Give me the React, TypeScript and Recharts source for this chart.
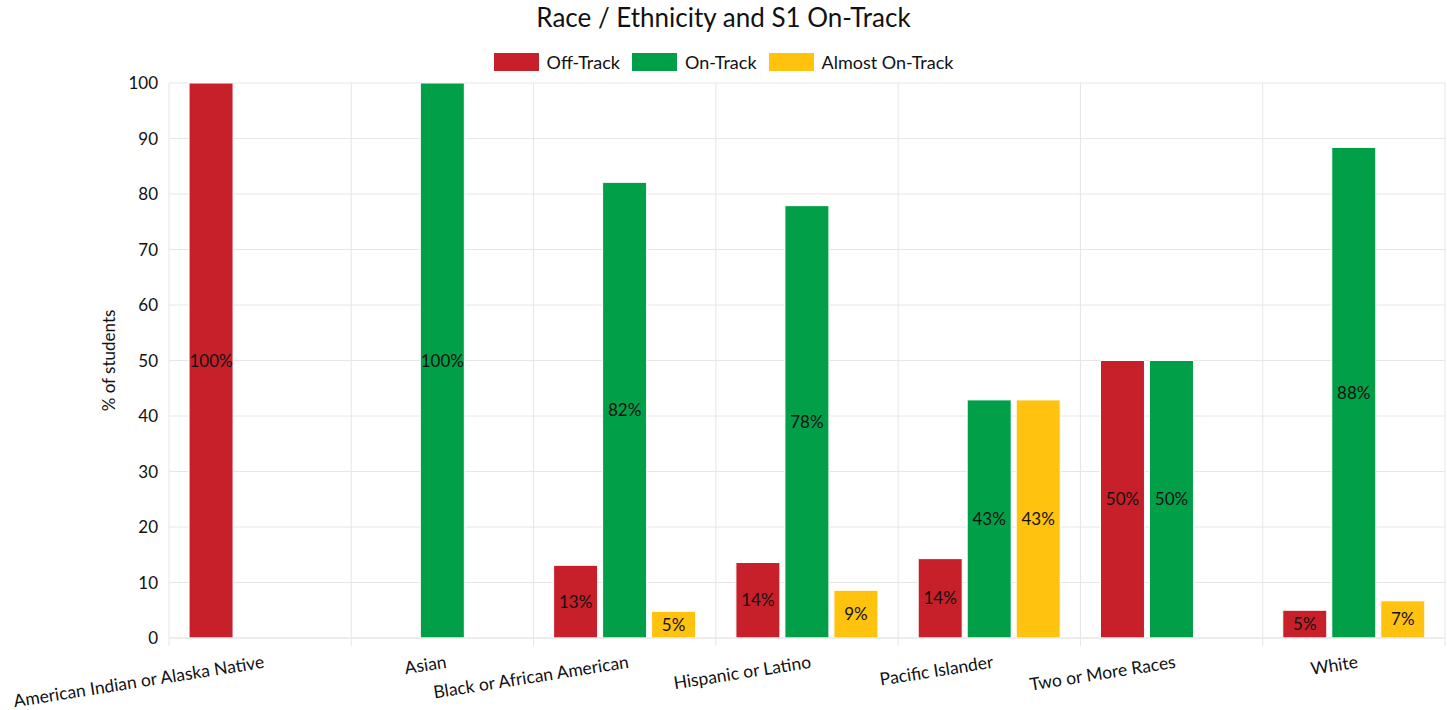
import React from 'react'
import { BarChart, Bar, XAxis, YAxis, CartesianGrid, LabelList } from 'recharts'

const categories = [
  'American Indian or Alaska Native',
  'Asian',
  'Black or African American',
  'Hispanic or Latino',
  'Pacific Islander',
  'Two or More Races',
  'White',
]
const offTrack = [100, null, 13.1, 13.6, 14.3, 50, 5.0]
const onTrack = [null, 100, 82.1, 77.9, 42.9, 50, 88.4]
const almostOnTrack = [null, null, 4.8, 8.6, 42.9, null, 6.7]
const yTicks = [0, 10, 20, 30, 40, 50, 60, 70, 80, 90, 100]

const series = [
  { key: 'offTrack', name: 'Off-Track', color: '#c8202a' },
  { key: 'onTrack', name: 'On-Track', color: '#009f48' },
  { key: 'almostOnTrack', name: 'Almost On-Track', color: '#ffc20e' },
]

const data = categories.map((name, i) => ({
  name,
  offTrack: offTrack[i],
  onTrack: onTrack[i],
  almostOnTrack: almostOnTrack[i],
}))

const W = 1447
const H = 710
const margin = { top: 83, right: 2, bottom: 12, left: 99 }
const Y_AXIS_W = 70
const PLOT_W = W - margin.left - margin.right - Y_AXIS_W
const FONT = 'Lato, "Noto Sans", sans-serif'
const GRID = '#e6e6e6'

const pct = (v: any) => (v == null ? '' : `${Math.round(v)}%`)

function XTick(props: any) {
  const { x, y, payload, index } = props
  const half = PLOT_W / categories.length / 2
  return (
    <g>
      <line x1={x - half} x2={x - half} y1={y} y2={y + 8} stroke={GRID} />
      {index === categories.length - 1 && (
        <line x1={x + half} x2={x + half} y1={y} y2={y + 8} stroke={GRID} />
      )}
      <text
        transform={`translate(${x},${y}) rotate(-9)`}
        x={0}
        y={0}
        dy={30}
        textAnchor="end"
        fontSize={17.5}
        fill="#111"
        fontFamily={FONT}
      >
        {payload.value}
      </text>
    </g>
  )
}

export default function App() {
  return (
    <div style={{ position: 'absolute', left: 0, top: 0, width: W, height: H, fontFamily: FONT, background: '#fff' }}>
      <div style={{ position: 'absolute', top: 0, left: 0, width: W, textAlign: 'center', fontSize: 26, lineHeight: '34px', color: '#111' }}>
        Race / Ethnicity and S1 On-Track
      </div>
      <div style={{ position: 'absolute', top: 51, left: 0, width: W, display: 'flex', justifyContent: 'center', alignItems: 'center', fontSize: 18, color: '#111' }}>
        {series.map((s) => (
          <div key={s.key} style={{ display: 'flex', alignItems: 'center', margin: '0 6px' }}>
            <span style={{ width: 45, height: 18, background: s.color, display: 'inline-block', marginRight: 8 }} />
            <span>{s.name}</span>
          </div>
        ))}
      </div>
      <BarChart width={W} height={H} data={data} margin={margin} barCategoryGap="11%" barGap={5}>
        <CartesianGrid
          stroke={GRID}
          verticalCoordinatesGenerator={({ offset }: any) =>
            Array.from({ length: categories.length + 1 }, (_, i) => offset.left + (i * offset.width) / categories.length)
          }
        />
        <XAxis
          dataKey="name"
          interval={0}
          tick={<XTick />}
          tickLine={false}
          tickSize={0}
          tickMargin={0}
          axisLine={{ stroke: GRID }}
          height={60}
        />
        <YAxis
          domain={[0, 100]}
          ticks={yTicks}
          width={Y_AXIS_W}
          axisLine={false}
          tickLine={false}
          tickMargin={5}
          tick={{ fontSize: 17, fill: '#111', fontFamily: FONT }}
          label={{
            value: '% of students',
            angle: -90,
            position: 'insideLeft',
            offset: 10,
            style: { textAnchor: 'middle', fontSize: 17, fill: '#111', fontFamily: FONT },
          }}
        />
        {series.map((s) => (
          <Bar key={s.key} dataKey={s.key} name={s.name} fill={s.color} stroke="#fff" strokeWidth={1} isAnimationActive={false}>
            <LabelList dataKey={s.key} position="center" formatter={pct} fill="#111" fontSize={17} fontFamily={FONT} />
          </Bar>
        ))}
      </BarChart>
    </div>
  )
}
